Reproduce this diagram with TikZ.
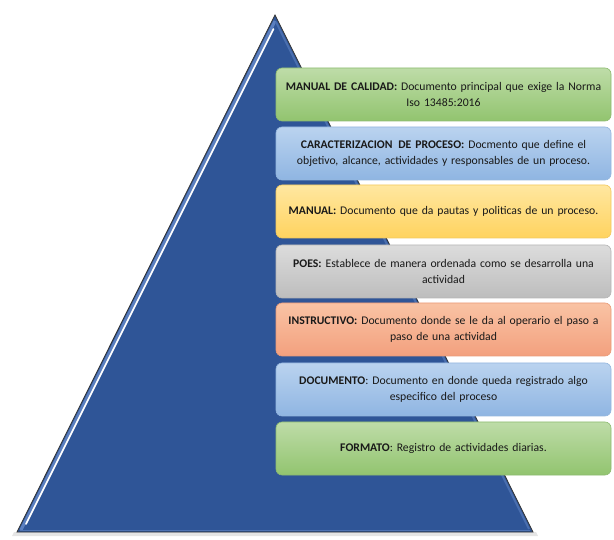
\documentclass[tikz,border=0pt]{standalone}
\usepackage{fontspec}
\setmainfont{Carlito}
\definecolor{triblue}{HTML}{2F5597}
\definecolor{triLight}{HTML}{5B7FBF}
\definecolor{gTop}{HTML}{BEDCA8}
\definecolor{gBot}{HTML}{92C46F}
\definecolor{gLine}{HTML}{8DBB70}
\definecolor{bTop}{HTML}{BAD3EF}
\definecolor{bBot}{HTML}{8FB5E2}
\definecolor{bLine}{HTML}{93B6DE}
\definecolor{yTop}{HTML}{FFE7A0}
\definecolor{yBot}{HTML}{FFD35F}
\definecolor{yLine}{HTML}{F2C85E}
\definecolor{sTop}{HTML}{DCDCDC}
\definecolor{sBot}{HTML}{BDBDBD}
\definecolor{sLine}{HTML}{B5B5B5}
\definecolor{oTop}{HTML}{F9C3A4}
\definecolor{oBot}{HTML}{F3A07E}
\definecolor{oLine}{HTML}{E99A78}
\tikzset{
  card/.style={rounded corners=6pt, line width=0.6pt, shading=axis, shading angle=0},
  cardtext/.style={align=center, text width=326pt, font=\fontsize{11.7}{15.8}\selectfont, inner sep=0pt, text=black!90},
}
\begin{document}
\begin{tikzpicture}[x=1pt,y=-1pt]
\useasboundingbox (0,0) rectangle (614,540);
% shadow
\fill[black!10] (14,532) -- (536,532) -- (538,536) -- (12,536) -- cycle;
% triangle
\coordinate (apex) at (275,15);
\coordinate (bl) at (17,532);
\coordinate (br) at (533,532);
\fill[triblue] (apex) -- (br) -- (bl) -- cycle;
% bevel highlights
\draw[triLight, line width=3pt] (21,530) -- (275,21);
\draw[triLight!70!triblue, line width=1.5pt] (20,530.5) -- (530,530.5);
\draw[triLight!60!triblue, line width=2pt] (529,529) -- (276,22);
\draw[white, line width=1.7pt, line cap=round] (273.5,29) -- (26,524);
\draw[black!80, line width=0.8pt, line join=miter] (apex) -- (br) -- (bl) -- cycle;
% cards
\foreach \y/\t/\b/\l in {68/gTop/gBot/gLine, 127/bTop/bBot/bLine, 185/yTop/yBot/yLine, 245/sTop/sBot/sLine, 303/oTop/oBot/oLine, 363/bTop/bBot/bLine, 422/gTop/gBot/gLine}{
  \draw[card, top color=\t, bottom color=\b, draw=\l] (276,\y) rectangle (611,\y+53);
}
\node[cardtext] (c1) at (443.5,94.5) {\textbf{MANUAL DE CALIDAD:} Documento principal que exige la Norma\\Iso 13485:2016};
\node[cardtext] (c2) at (443.5,153.5) {\textbf{CARACTERIZACION\, DE PROCESO:} Docmento que define el\\objetivo, alcance, actividades y responsables de un proceso.};
\node[cardtext] (c3) at (443.5,211.5) {\textbf{MANUAL:} Documento que da pautas y politicas de un proceso.};
\node[cardtext] (c4) at (443.5,271.5) {\textbf{POES:} Establece de manera ordenada como se desarrolla una\\actividad};
\node[cardtext] (c5) at (443.5,329.5) {\textbf{INSTRUCTIVO:} Documento donde se le da al operario el paso a\\paso de una actividad};
\node[cardtext] (c6) at (443.5,389.5) {\textbf{DOCUMENTO}: Documento en donde queda registrado algo\\especifico del proceso};
\node[cardtext] (c7) at (443.5,448.5) {\textbf{FORMATO}: Registro de actividades diarias.};
\end{tikzpicture}
\end{document}
